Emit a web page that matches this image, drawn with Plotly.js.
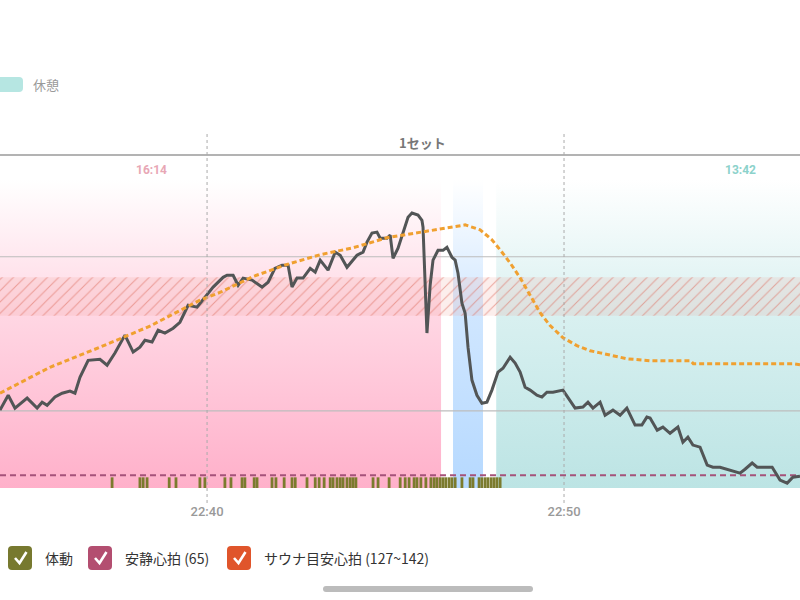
<!DOCTYPE html>
<html>
<head>
<meta charset="utf-8">
<script src="https://cdn.plot.ly/plotly-3.0.1.min.js"></script>
<style>html,body{margin:0;padding:0;background:#fff;}#chart{width:800px;height:600px;}</style>
</head>
<body>
<div id="chart"></div>
<script>
// ---------- data (time = minutes after 22:00) ----------
const hrTime = [34.20,34.43,34.62,34.96,35.24,35.38,35.52,35.74,35.94,36.16,36.30,36.44,36.67,37.00,37.20,37.42,37.70,37.93,38.12,38.26,38.46,38.63,38.82,39.05,39.24,39.47,39.72,40.00,40.17,40.45,40.56,40.73,40.87,41.01,41.26,41.54,41.71,41.90,42.10,42.27,42.38,42.52,42.69,42.89,43.03,43.17,43.39,43.59,43.73,43.92,44.09,44.20,44.37,44.48,44.62,44.76,44.85,45.04,45.13,45.21,45.35,45.49,45.63,45.74,45.91,46.02,46.05,46.16,46.25,46.33,46.47,46.61,46.72,46.86,46.95,47.03,47.14,47.23,47.31,47.42,47.56,47.70,47.84,47.98,48.15,48.29,48.49,48.63,48.77,48.91,49.05,49.24,49.38,49.52,49.69,49.97,50.11,50.31,50.53,50.67,50.81,51.01,51.15,51.37,51.57,51.76,51.99,52.18,52.32,52.41,52.61,52.77,52.97,53.19,53.33,53.47,53.61,53.81,54.01,54.17,54.37,54.65,54.93,55.07,55.27,55.41,55.83,56.05,56.25,56.41,56.61];
const hrBpm = [90.3,96.1,91.1,95.0,91.1,93.4,92.2,95.4,96.9,97.7,96.9,103.1,109.7,110.1,107.8,112.5,119.5,112.9,114.8,117.5,116.8,121.4,120.3,122.2,124.5,131.1,130.4,135.0,138.2,142.0,142.8,142.8,138.9,141.7,140.9,138.2,140.1,145.5,146.7,146.7,138.2,141.7,141.7,145.5,144.0,148.7,144.8,151.8,150.6,145.9,148.7,150.6,151.8,155.7,159.2,159.6,157.2,157.2,158.4,149.4,153.3,159.2,165.4,167.0,166.2,164.2,161.5,120.3,139.0,148.7,152.5,152.5,153.7,149.8,148.7,143.6,131.9,128.0,114.8,102.0,96.1,93.0,93.4,98.1,105.1,106.6,110.9,108.6,105.1,99.2,98.1,96.1,95.4,97.3,97.3,98.1,95.0,91.1,91.5,93.4,91.1,93.4,88.3,90.3,88.3,91.1,84.5,84.5,87.6,87.2,82.5,83.7,81.3,83.7,77.8,79.8,76.7,75.9,68.9,68.1,68.1,66.9,65.8,67.3,69.7,68.1,68.1,63.1,61.9,64.2,64.6];

const avgTime = [34.20,35.60,37.00,38.40,39.80,40.36,41.29,42.24,43.17,44.09,45.04,45.97,46.81,47.23,47.65,47.98,48.21,48.49,48.77,49.05,49.33,49.61,49.97,50.36,50.73,51.01,51.76,52.41,53.55,53.62,56.41,56.61];
const avgBpm = [96.9,107.0,114.8,123.0,133.1,136.1,142.3,147.0,150.8,153.5,157.4,159.4,161.3,162.4,160.5,156.6,152.7,147.6,141.8,134.8,128.2,123.2,118.5,115.4,113.4,112.6,110.3,109.5,109.5,108.4,108.4,108.0];

const activityTime = [37.34,38.12,38.21,38.32,38.94,39.13,39.80,39.94,40.50,40.67,40.98,41.06,41.32,41.40,41.82,41.93,42.16,42.38,42.47,42.80,43.03,43.14,43.28,43.45,43.53,43.64,43.73,43.81,43.92,44.01,44.09,44.17,44.65,44.79,45.10,45.41,45.55,45.66,45.80,45.88,45.99,46.13,46.27,46.36,46.44,46.53,46.61,46.69,46.78,46.86,46.95,47.14,47.37,47.45,47.62,47.70,47.79,47.87,47.96,48.04,48.12,48.21];

const regionNames = ['サウナ','水風呂','休憩'];
const regionStart = [30.32, 46.89, 48.10];
const regionEnd   = [46.555, 47.73, 61.80];
const regionDuration = ['16:14', '', '13:42'];

const restingHR = 65;
const saunaTarget = [127, 142];
const gridValues = [90, 150];
const tickTimes = [40, 50];
const tickLabels = ['22:40', '22:50'];
const setLabel = '1セット';

// ---------- styling ----------
const xRange = [34.20, 56.61];
const yRange = [60, 189.6];
const regionTop = 180;
const regionBottomColor = ['#ffb0ca', '#b6d9ff', '#bce4e4'];
const regionMidColor = ['#ffd6e3', '#cfe6ff', '#d8f0f0'];
const cjk = "'Noto Sans CJK JP', Roboto, sans-serif";
const W = 800, plotTop = 155, plotBottom = 488;
const X = px => px / W;
const Y = py => (plotBottom - py) / (plotBottom - plotTop);

function rrect(x0, y0, x1, y1, r) {
  return `M ${X(x0+r)},${Y(y0)} L ${X(x1-r)},${Y(y0)} Q ${X(x1)},${Y(y0)} ${X(x1)},${Y(y0+r)} ` +
         `L ${X(x1)},${Y(y1-r)} Q ${X(x1)},${Y(y1)} ${X(x1-r)},${Y(y1)} L ${X(x0+r)},${Y(y1)} ` +
         `Q ${X(x0)},${Y(y1)} ${X(x0)},${Y(y1-r)} L ${X(x0)},${Y(y0+r)} Q ${X(x0)},${Y(y0)} ${X(x0+r)},${Y(y0)} Z`;
}

const traces = [];
// region backgrounds (gradient)
regionNames.forEach((name, i) => {
  traces.push({
    type: 'scatter', mode: 'lines', name: name, showlegend: false, hoverinfo: 'skip',
    x: [regionStart[i], regionEnd[i], regionEnd[i], regionStart[i], regionStart[i]],
    y: [yRange[0] - 5, yRange[0] - 5, regionTop, regionTop, yRange[0] - 5],
    fill: 'toself', line: {width: 0},
    fillgradient: {type: 'vertical', start: yRange[0], stop: regionTop,
      colorscale: [[0, regionBottomColor[i]], [0.55, regionMidColor[i]], [1, '#ffffff']]}
  });
});
// sauna target band (hatched)
traces.push({
  type: 'scatter', mode: 'lines', showlegend: false, hoverinfo: 'skip',
  x: [xRange[0] - 1, xRange[1] + 1, xRange[1] + 1, xRange[0] - 1, xRange[0] - 1],
  y: [saunaTarget[0], saunaTarget[0], saunaTarget[1], saunaTarget[1], saunaTarget[0]],
  fill: 'toself', line: {width: 0}, fillcolor: 'rgba(235,150,140,0.16)',
  fillpattern: {shape: '/', fgcolor: 'rgba(222,110,92,0.55)', bgcolor: 'rgba(235,150,140,0.16)', size: 8, solidity: 0.13}
});
// horizontal grid lines
gridValues.forEach(v => {
  traces.push({type: 'scatter', mode: 'lines', showlegend: false, hoverinfo: 'skip',
    x: xRange, y: [v, v], line: {color: '#bdbdbd', width: 1.2}});
});
// activity
traces.push({
  type: 'scatter', mode: 'markers', name: '体動', showlegend: false,
  x: activityTime, y: activityTime.map(() => 61.7),
  marker: {symbol: 'line-ns', size: 9, color: '#7b7b2e', line: {color: '#7b7b2e', width: 2.8}}
});
// resting HR
traces.push({
  type: 'scatter', mode: 'lines', name: '安静心拍', showlegend: false,
  x: xRange, y: [restingHR, restingHR], line: {color: '#a5527a', width: 2, dash: '6px,4px'}
});
// heart rate
traces.push({
  type: 'scatter', mode: 'lines', name: '心拍', showlegend: false,
  x: hrTime, y: hrBpm, line: {color: '#525556', width: 3}
});
// smoothed heart rate
traces.push({
  type: 'scatter', mode: 'lines', name: '平均', showlegend: false,
  x: avgTime, y: avgBpm, line: {color: '#f0a030', width: 3, dash: '5px,3px', shape: 'linear'}
});

const shapes = [];
// top separator line
shapes.push({type: 'line', xref: 'paper', yref: 'paper', x0: 0, x1: 1, y0: 1, y1: 1, line: {color: '#9a9a9a', width: 1.5}});
// vertical dotted time lines
tickTimes.forEach(t => {
  shapes.push({type: 'line', xref: 'x', yref: 'paper', x0: t, x1: t, y0: Y(503), y1: Y(134),
    line: {color: '#aaaaaa', width: 1, dash: 'dot'}});
});
// top legend swatch (休憩)
shapes.push({type: 'path', xref: 'paper', yref: 'paper', path: rrect(-6, 77, 23, 92, 4), fillcolor: '#b6e6e2', line: {width: 0}});
// bottom legend checkboxes
const legendItems = [
  {label: '体動', color: '#77792f', box: 8, text: 43},
  {label: '安静心拍 (65)', color: '#b34e70', box: 88, text: 123},
  {label: 'サウナ目安心拍 (127~142)', color: '#e0552b', box: 227, text: 262}
];
const annotations = [];
legendItems.forEach(it => {
  shapes.push({type: 'path', xref: 'paper', yref: 'paper', path: rrect(it.box, 546, it.box + 24, 570, 4), fillcolor: it.color, line: {width: 0}});
  const b = it.box;
  shapes.push({type: 'path', xref: 'paper', yref: 'paper',
    path: `M ${X(b+7)},${Y(558)} L ${X(b+11.5)},${Y(563)} L ${X(b+18.5)},${Y(552)}`,
    line: {color: '#ffffff', width: 2.6}});
  annotations.push({xref: 'paper', yref: 'paper', x: X(it.text), y: Y(558), xanchor: 'left', yanchor: 'middle',
    text: it.label, showarrow: false, font: {family: cjk, size: 14, color: '#333333'}});
});
// scrollbar
shapes.push({type: 'path', xref: 'paper', yref: 'paper', path: rrect(323, 586, 533, 592, 3), fillcolor: '#bcbcbc', line: {width: 0}});

annotations.push({xref: 'paper', yref: 'paper', x: X(31), y: Y(84), xanchor: 'left', yanchor: 'middle',
  text: regionNames[2], showarrow: false, font: {family: cjk, size: 13, color: '#999999'}});
annotations.push({xref: 'paper', yref: 'paper', x: X(422), y: Y(142), xanchor: 'center', yanchor: 'middle',
  text: setLabel, showarrow: false, font: {family: cjk, size: 13, color: '#777777', weight: 700}});
annotations.push({xref: 'paper', yref: 'paper', x: X(151), y: Y(170), xanchor: 'center', yanchor: 'middle',
  text: regionDuration[0], showarrow: false, font: {family: 'Roboto, sans-serif', size: 12, color: '#e8a7b5', weight: 700}});
annotations.push({xref: 'paper', yref: 'paper', x: X(740), y: Y(170), xanchor: 'center', yanchor: 'middle',
  text: regionDuration[2], showarrow: false, font: {family: 'Roboto, sans-serif', size: 12, color: '#8cd2cb', weight: 700}});

const layout = {
  width: 800, height: 600,
  margin: {l: 0, r: 0, t: plotTop, b: 600 - plotBottom, pad: 0},
  paper_bgcolor: '#ffffff', plot_bgcolor: '#ffffff',
  showlegend: false,
  xaxis: {range: xRange, tickvals: tickTimes, ticktext: tickLabels, showgrid: false, zeroline: false,
    showline: false, ticks: '', ticklabelstandoff: 14, fixedrange: true,
    tickfont: {family: 'Roboto, sans-serif', size: 13, color: '#999999', weight: 500}},
  yaxis: {range: yRange, showgrid: false, zeroline: false, showticklabels: false, ticks: '', showline: false, fixedrange: true},
  shapes: shapes,
  annotations: annotations
};

Plotly.newPlot('chart', traces, layout, {staticPlot: true, displayModeBar: false});
</script>
</body>
</html>
